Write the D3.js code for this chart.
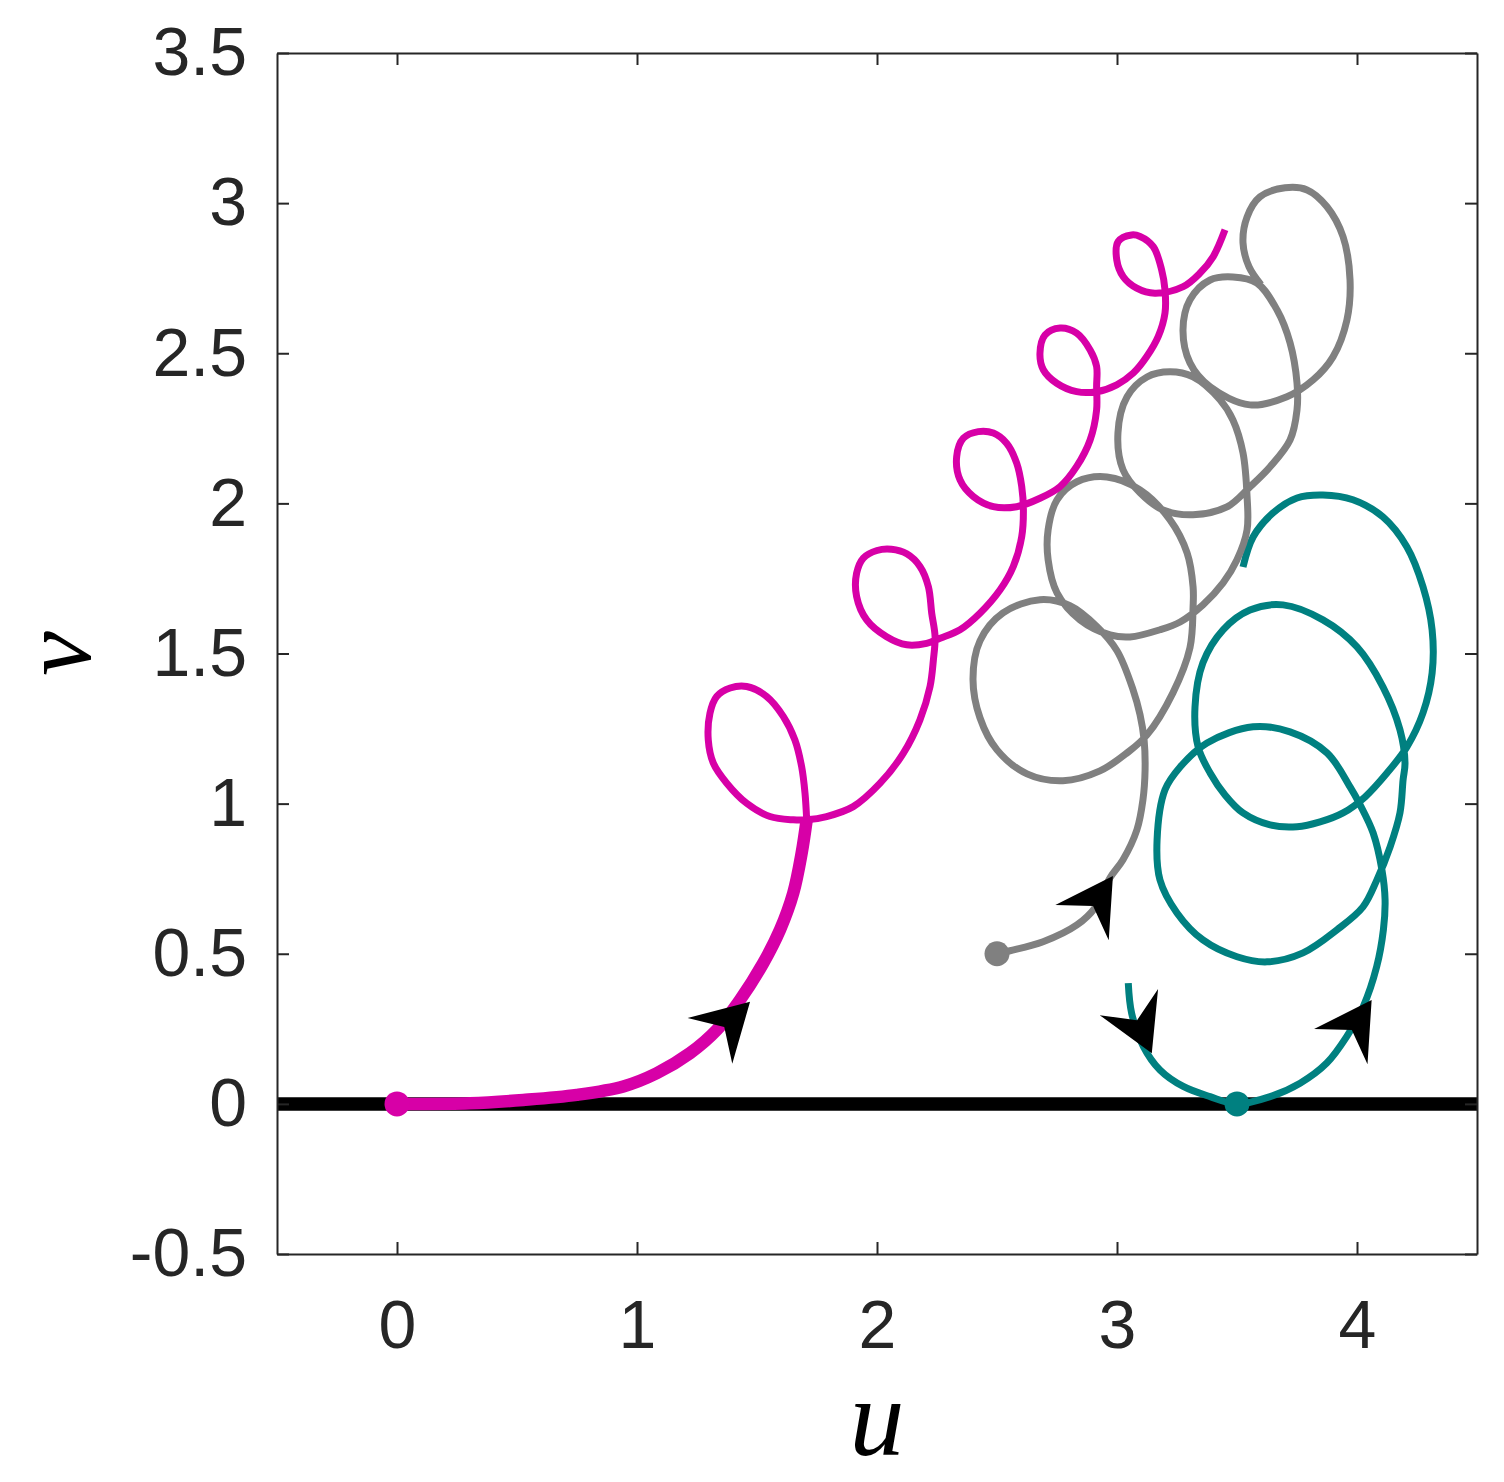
<!DOCTYPE html>
<html>
<head>
<meta charset="utf-8">
<script src="https://cdn.jsdelivr.net/npm/d3@7"></script>
<style>
  html, body { margin: 0; padding: 0; background: #fff; }
  svg { display: block; }
</style>
</head>
<body>
<svg width="1504" height="1482"></svg>
<script>
// tick values
const xTicks = [0, 1, 2, 3, 4];
const yTicks = [-0.5, 0, 0.5, 1, 1.5, 2, 2.5, 3, 3.5];

// magenta trajectory, thick first stretch from the origin
const magentaThick = [
  [0, 0], [0.304, 0.002], [0.526, 0.013], [0.749, 0.030], [0.943, 0.058],
  [1.082, 0.102], [1.221, 0.169], [1.332, 0.246], [1.429, 0.346], [1.526, 0.469],
  [1.596, 0.580], [1.651, 0.702], [1.686, 0.835], [1.707, 0.946]
];

// magenta trajectory, the looping part
const magentaLoops = [
  [1.707, 0.946], [1.700, 1.035], [1.686, 1.123], [1.658, 1.212], [1.610, 1.290],
  [1.540, 1.357], [1.457, 1.390], [1.388, 1.385], [1.332, 1.357], [1.304, 1.301],
  [1.297, 1.212], [1.318, 1.135], [1.374, 1.068], [1.457, 1.001], [1.554, 0.957],
  [1.651, 0.946], [1.707, 0.946], [1.790, 0.957], [1.901, 0.990], [2.013, 1.068],
  [2.110, 1.168], [2.179, 1.279], [2.221, 1.390], [2.235, 1.479], [2.242, 1.556],
  [2.228, 1.634], [2.214, 1.723], [2.179, 1.790], [2.124, 1.832], [2.060, 1.847],
  [2.000, 1.843], [1.943, 1.818], [1.915, 1.767], [1.915, 1.690], [1.957, 1.612],
  [2.040, 1.556], [2.124, 1.529], [2.207, 1.534], [2.263, 1.551], [2.346, 1.579],
  [2.429, 1.634], [2.513, 1.712], [2.568, 1.790], [2.603, 1.889], [2.610, 1.978],
  [2.603, 2.056], [2.582, 2.134], [2.540, 2.200], [2.485, 2.234], [2.422, 2.239],
  [2.360, 2.217], [2.332, 2.156], [2.346, 2.078], [2.401, 2.023], [2.485, 1.989],
  [2.582, 1.989], [2.679, 2.017], [2.763, 2.056], [2.832, 2.123], [2.888, 2.211],
  [2.915, 2.311], [2.915, 2.389], [2.915, 2.456], [2.888, 2.511], [2.832, 2.567],
  [2.763, 2.584], [2.700, 2.561], [2.679, 2.500], [2.693, 2.445], [2.749, 2.400],
  [2.832, 2.372], [2.915, 2.372], [2.999, 2.395], [3.068, 2.434], [3.124, 2.489],
  [3.172, 2.556], [3.200, 2.634], [3.200, 2.711], [3.186, 2.778], [3.151, 2.855],
  [3.096, 2.889], [3.061, 2.894], [3.005, 2.872], [2.999, 2.811], [3.026, 2.755],
  [3.082, 2.717], [3.158, 2.700], [3.276, 2.722], [3.346, 2.767], [3.401, 2.822],
  [3.450, 2.911]
];

// gray trajectory
const grayPath = [
  [2.500, 0.500], [2.554, 0.510], [2.692, 0.540], [2.833, 0.596], [2.908, 0.653],
  [2.971, 0.753], [3.025, 0.813], [3.083, 0.913], [3.108, 1.012], [3.117, 1.112],
  [3.113, 1.212], [3.096, 1.296], [3.067, 1.379], [3.000, 1.509], [2.917, 1.589],
  [2.804, 1.659], [2.679, 1.679], [2.525, 1.635], [2.429, 1.542], [2.400, 1.415],
  [2.429, 1.286], [2.500, 1.179], [2.625, 1.099], [2.775, 1.076], [2.929, 1.109],
  [3.042, 1.169], [3.125, 1.229], [3.233, 1.369], [3.304, 1.519], [3.317, 1.655],
  [3.317, 1.722], [3.292, 1.835], [3.221, 1.945], [3.096, 2.045], [2.958, 2.088],
  [2.833, 2.072], [2.750, 2.012], [2.713, 1.912], [2.713, 1.812], [2.750, 1.702],
  [2.846, 1.612], [2.971, 1.562], [3.054, 1.555], [3.179, 1.579], [3.263, 1.605],
  [3.358, 1.662], [3.442, 1.735], [3.500, 1.812], [3.542, 1.912], [3.542, 2.022],
  [3.525, 2.168], [3.483, 2.278], [3.429, 2.345], [3.317, 2.421], [3.221, 2.438],
  [3.125, 2.421], [3.042, 2.355], [3.004, 2.235], [3.025, 2.112], [3.096, 2.035],
  [3.192, 1.978], [3.317, 1.962], [3.458, 1.988], [3.554, 2.055], [3.638, 2.122],
  [3.721, 2.211], [3.750, 2.311], [3.750, 2.401], [3.721, 2.535], [3.667, 2.644],
  [3.583, 2.734], [3.483, 2.754], [3.388, 2.744], [3.304, 2.678], [3.275, 2.578],
  [3.304, 2.468], [3.388, 2.388], [3.554, 2.328], [3.708, 2.355], [3.817, 2.411],
  [3.900, 2.488], [3.958, 2.611], [3.971, 2.744], [3.942, 2.888], [3.875, 2.988],
  [3.792, 3.044], [3.700, 3.051], [3.596, 3.021], [3.542, 2.954], [3.525, 2.868],
  [3.550, 2.788], [3.600, 2.728]
];

// teal trajectory
const tealPath = [
  [3.047, 0.402], [3.061, 0.302], [3.110, 0.191], [3.179, 0.113], [3.276, 0.058],
  [3.388, 0.024], [3.500, 0.000], [3.638, 0.024], [3.763, 0.069], [3.874, 0.136],
  [3.957, 0.224], [4.026, 0.324], [4.082, 0.457], [4.110, 0.580], [4.117, 0.679],
  [4.104, 0.779], [4.067, 0.903], [4.013, 0.996], [3.971, 1.056], [3.875, 1.169],
  [3.721, 1.239], [3.567, 1.256], [3.375, 1.202], [3.263, 1.122], [3.200, 1.046],
  [3.167, 0.879], [3.179, 0.746], [3.250, 0.636], [3.358, 0.546], [3.500, 0.490],
  [3.625, 0.473], [3.775, 0.503], [3.917, 0.580], [4.025, 0.656], [4.083, 0.746],
  [4.138, 0.856], [4.179, 0.969], [4.192, 1.079], [4.200, 1.136], [4.179, 1.246],
  [4.108, 1.389], [4.000, 1.522], [3.858, 1.612], [3.692, 1.662], [3.554, 1.645],
  [3.442, 1.579], [3.358, 1.469], [3.325, 1.322], [3.338, 1.189], [3.388, 1.102],
  [3.450, 1.029], [3.525, 0.969], [3.638, 0.929], [3.750, 0.923], [3.846, 0.939],
  [3.942, 0.969], [4.033, 1.022], [4.125, 1.102], [4.208, 1.189], [4.275, 1.302],
  [4.313, 1.435], [4.313, 1.579], [4.275, 1.722], [4.208, 1.855], [4.108, 1.955],
  [3.983, 2.012], [3.858, 2.028], [3.750, 2.018], [3.650, 1.968], [3.567, 1.888],
  [3.525, 1.788]
];

// starting points: [u, v]
const startU = [0, 2.5, 3.5];
const startV = [0, 0.5, 0];
const startColors = ['#d700a7', '#808080', '#008080'];

// direction arrows: [tip u, tip v, back u, back v]
const arrows = [
  [1.471, 0.340, 1.308, 0.213],
  [2.983, 0.759, 2.854, 0.603],
  [4.061, 0.346, 3.919, 0.174],
  [3.145, 0.169, 3.058, 0.324]
];

const MAGENTA = '#d700a7';
const GRAY = '#808080';
const TEAL = '#008080';
const AXIS_COLOR = '#262626';

const svg = d3.select('svg');

const x = d3.scaleLinear()
  .domain([-0.5, 4.5])
  .range([277, 1477]);

const y = d3.scaleLinear()
  .domain([-0.5, 3.5])
  .range([1254, 53]);

const line = d3.line()
  .x(d => x(d[0]))
  .y(d => y(d[1]))
  .curve(d3.curveCatmullRom.alpha(0.5));

// thick black v = 0 line
svg.append('line')
  .attr('x1', x(-0.5))
  .attr('x2', x(4.5))
  .attr('y1', y(0))
  .attr('y2', y(0))
  .style('stroke', '#000')
  .style('stroke-width', 13.5);

const paths = [
  { data: tealPath, color: TEAL, width: 7 },
  { data: grayPath, color: GRAY, width: 7 },
  { data: magentaLoops, color: MAGENTA, width: 7 },
  { data: magentaThick, color: MAGENTA, width: 12.5 }
];

svg.append('g')
  .selectAll('path')
  .data(paths)
  .join('path')
  .attr('d', d => line(d.data))
  .style('fill', 'none')
  .style('stroke', d => d.color)
  .style('stroke-width', d => d.width)
  .style('stroke-linejoin', 'round');

svg.append('g')
  .selectAll('circle')
  .data(startU)
  .join('circle')
  .attr('cx', d => x(d))
  .attr('cy', (d, i) => y(startV[i]))
  .attr('r', 12.5)
  .style('fill', (d, i) => startColors[i]);

// stealth arrowheads, size in pixels
const ARROW_LEN = 56;
const ARROW_HALF = 32;
const ARROW_NOTCH = 36;

svg.append('g')
  .selectAll('path')
  .data(arrows)
  .join('path')
  .attr('d', `M0,0 L${-ARROW_LEN},${-ARROW_HALF} L${-ARROW_NOTCH},0 L${-ARROW_LEN},${ARROW_HALF} Z`)
  .attr('transform', d => {
    const tx = x(d[0]), ty = y(d[1]);
    const bx = x(d[2]), by = y(d[3]);
    const angle = Math.atan2(ty - by, tx - bx) * 180 / Math.PI;
    return `translate(${tx},${ty}) rotate(${angle})`;
  })
  .style('fill', '#000');

// axes, ticks pointing inward on all four sides
const TICK = 12;

svg.append('g')
  .attr('transform', `translate(0,${y(-0.5)})`)
  .call(d3.axisBottom(x).tickValues(xTicks).tickSizeInner(-TICK).tickSizeOuter(0)
    .tickPadding(46).tickFormat(d3.format('')));

svg.append('g')
  .attr('transform', `translate(0,${y(3.5)})`)
  .call(d3.axisTop(x).tickValues(xTicks).tickSizeInner(-TICK).tickSizeOuter(0)
    .tickFormat(''));

svg.append('g')
  .attr('transform', `translate(${x(-0.5)},0)`)
  .call(d3.axisLeft(y).tickValues(yTicks).tickSizeInner(-TICK).tickSizeOuter(0)
    .tickPadding(30).tickFormat(d => String(d)));

svg.append('g')
  .attr('transform', `translate(${x(4.5)},0)`)
  .call(d3.axisRight(y).tickValues(yTicks).tickSizeInner(-TICK).tickSizeOuter(0)
    .tickFormat(''));

svg.selectAll('.domain, .tick line')
  .style('stroke', AXIS_COLOR)
  .style('stroke-width', 2);

svg.selectAll('.tick text')
  .style('fill', AXIS_COLOR)
  .style('font-family', '"Liberation Sans", Arial, sans-serif')
  .style('font-size', '68px');

// axis labels
svg.append('text')
  .text('u')
  .attr('x', x(2))
  .attr('y', 1455)
  .style('text-anchor', 'middle')
  .style('font-family', '"Liberation Serif", "Times New Roman", serif')
  .style('font-style', 'italic')
  .style('font-size', '110px')
  .style('fill', '#000');

svg.append('text')
  .text('v')
  .attr('transform', `translate(90,${y(1.5)}) rotate(-90)`)
  .style('text-anchor', 'middle')
  .style('font-family', '"Liberation Serif", "Times New Roman", serif')
  .style('font-style', 'italic')
  .style('font-size', '100px')
  .style('fill', '#000');
</script>
</body>
</html>
